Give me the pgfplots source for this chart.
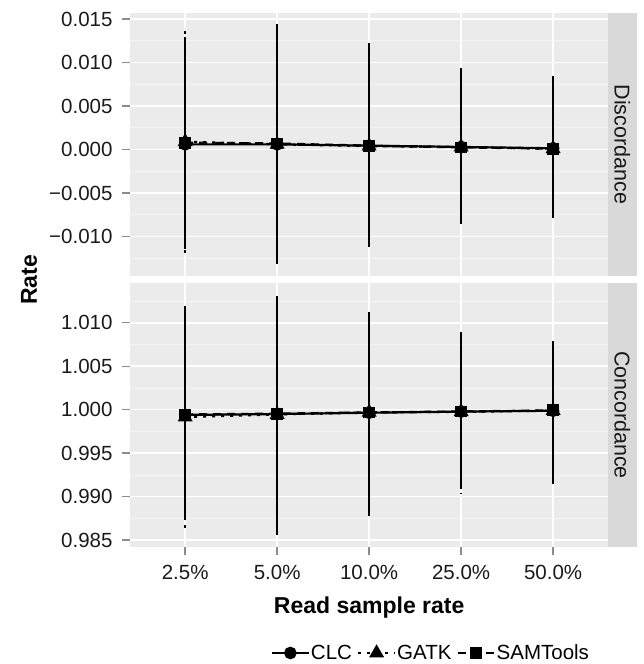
\documentclass[border=0pt]{standalone}
\usepackage{fontspec}
\setmainfont{Liberation Sans}
\usepackage{pgfplots}
\pgfplotsset{compat=1.18}
\usepackage{pgfplotstable}

\definecolor{panel}{HTML}{EBEBEB}
\definecolor{stripc}{HTML}{D9D9D9}
\definecolor{minorg}{HTML}{F5F5F5}
\definecolor{tickc}{HTML}{8C8C8C}
\definecolor{txt}{HTML}{1A1A1A}

% Discordance panel
\pgfplotstableread{
x y hi lo
1 0.00060 0.0123 -0.0111
2 0.00060 0.0144 -0.0131
3 0.00045 0.0122 -0.0112
4 0.00030 0.0094 -0.0081
5 0.00015 0.0084 -0.0079
}\dCLC
\pgfplotstableread{
x y hi lo
1 0.00090 0.0138 -0.0121
2 0.00060 0.0142 -0.0129
3 0.00040 0.0120 -0.0110
4 0.00030 0.0090 -0.0090
5 0.00010 0.0083 -0.0078
}\dGATK
\pgfplotstableread{
x y hi lo
1 0.00080 0.0131 -0.0117
2 0.00070 0.0143 -0.0130
3 0.00045 0.0121 -0.0111
4 0.00025 0.0092 -0.0085
5 0.00010 0.0082 -0.0077
}\dSAM
% Concordance panel
\pgfplotstableread{
x y hi lo
1 0.99940 1.0113 0.9882
2 0.99950 1.0131 0.9856
3 0.99965 1.0112 0.9878
4 0.99978 1.0089 0.9911
5 0.99988 1.0079 0.9915
}\cCLC
\pgfplotstableread{
x y hi lo
1 0.99915 1.0119 0.9862
2 0.99945 1.0129 0.9858
3 0.99970 1.0110 0.9880
4 0.99975 1.0086 0.9904
5 0.99990 1.0078 0.9916
}\cGATK
\pgfplotstableread{
x y hi lo
1 0.99945 1.0116 0.9873
2 0.99955 1.0130 0.9857
3 0.99968 1.0111 0.9879
4 0.99980 1.0088 0.9908
5 0.99992 1.0078 0.9916
}\cSAM

\pgfplotsset{
  facet/.style={
    scale only axis, width=478.3pt, height=263.3pt,
    axis background/.style={fill=panel},
    axis line style={draw=none},
    xmin=0.4, xmax=5.6,
    xtick={1,2,3,4,5},
    xmajorgrids, ymajorgrids, yminorgrids,
    major grid style={white, line width=1.6pt},
    minor grid style={minorg, line width=0.8pt},
    tick align=outside,
    major tick length=8pt, minor tick length=0pt,
    tick style={tickc, line width=1.4pt},
    xtick pos=bottom, ytick pos=left,
    scaled y ticks=false,
    every tick label/.append style={font=\fontsize{20.5}{24}\selectfont, text=txt},
    yticklabel style={xshift=-6pt},
    xticklabel style={yshift=-7pt},
  },
  sCLC/.style={black, line width=2.2pt, mark=*, mark size=5.2pt, mark options={solid},
    error bars/y dir=both, error bars/y explicit, error bars/error mark=none,
    error bars/error bar style={line width=2.2pt, solid}},
  sGATK/.style={black, line width=2.2pt, dash pattern=on 3pt off 6pt, mark=triangle*, mark size=6.5pt, mark options={solid},
    error bars/y dir=both, error bars/y explicit, error bars/error mark=none,
    error bars/error bar style={line width=2.2pt, dash pattern=on 3pt off 6pt}},
  sSAM/.style={black, line width=2.2pt, dash pattern=on 8pt off 6pt, mark=square*, mark size=4.8pt, mark options={solid},
    error bars/y dir=both, error bars/y explicit, error bars/error mark=none,
    error bars/error bar style={line width=2.2pt, dash pattern=on 8pt off 6pt}},
  /pgfplots/table/ebtab/.style={x=x, y=y, y error plus expr=\thisrow{hi}-\thisrow{y}, y error minus expr=\thisrow{y}-\thisrow{lo}},
}

\begin{document}
\begin{tikzpicture}
\useasboundingbox (0pt,0pt) rectangle (643pt,-664pt);

% Top panel: Discordance
\begin{axis}[facet,
  at={(130pt,-12.7pt)}, anchor=north west,
  ymin=-0.01452, ymax=0.01572,
  ytick={-0.01,-0.005,0,0.005,0.01,0.015},
  yticklabels={−0.010,−0.005,0.000,0.005,0.010,0.015},
  minor ytick={-0.0125,-0.0075,-0.0025,0.0025,0.0075,0.0125},
  xticklabels={}, xtick style={draw=none},
]
\addplot[sCLC] table[ebtab] {\dCLC};
\addplot[sGATK] table[ebtab] {\dGATK};
\addplot[sSAM] table[ebtab] {\dSAM};
\end{axis}

% Bottom panel: Concordance
\begin{axis}[facet,
  at={(130pt,-283.3pt)}, anchor=north west,
  ymin=0.98426, ymax=1.01453,
  ytick={0.985,0.99,0.995,1,1.005,1.01},
  yticklabels={0.985,0.990,0.995,1.000,1.005,1.010},
  minor ytick={0.9875,0.9925,0.9975,1.0025,1.0075,1.0125},
  xticklabels={2.5\%,5.0\%,10.0\%,25.0\%,50.0\%},
  legend columns=3,
  legend style={at={(0.628,-0.404)}, anchor=center, draw=none, fill=none,
    font=\fontsize{20.5}{24}\selectfont, inner sep=0pt,
    nodes={inner xsep=1pt},
    /tikz/every even column/.append style={column sep=4pt}},
  legend image code/.code={\draw[mark repeat=2,mark phase=2,#1] plot coordinates {(0pt,0pt) (18.5pt,0pt) (37pt,0pt)};},
]
\addplot[sCLC] table[ebtab] {\cCLC};
\addlegendentry{CLC}
\addplot[sGATK] table[ebtab] {\cGATK};
\addlegendentry{GATK}
\addplot[sSAM] table[ebtab] {\cSAM};
\addlegendentry{SAMTools}
\end{axis}

% facet strips
\fill[stripc] (608.3pt,-12.7pt) rectangle (637.3pt,-276pt);
\fill[stripc] (608.3pt,-283.3pt) rectangle (637.3pt,-546.7pt);
\node[rotate=-90, font=\fontsize{21.5}{24}\selectfont, text=txt] at (622.3pt,-144.3pt) {Discordance};
\node[rotate=-90, font=\fontsize{21.5}{24}\selectfont, text=txt] at (622.3pt,-415pt) {Concordance};

% axis titles
\node[rotate=90, font=\bfseries\fontsize{23}{27}\selectfont, text=black] at (29pt,-279.7pt) {Rate};
\node[anchor=base, font=\bfseries\fontsize{23}{27}\selectfont, text=black] at (369.2pt,-613pt) {Read sample rate};
\end{tikzpicture}
\end{document}
